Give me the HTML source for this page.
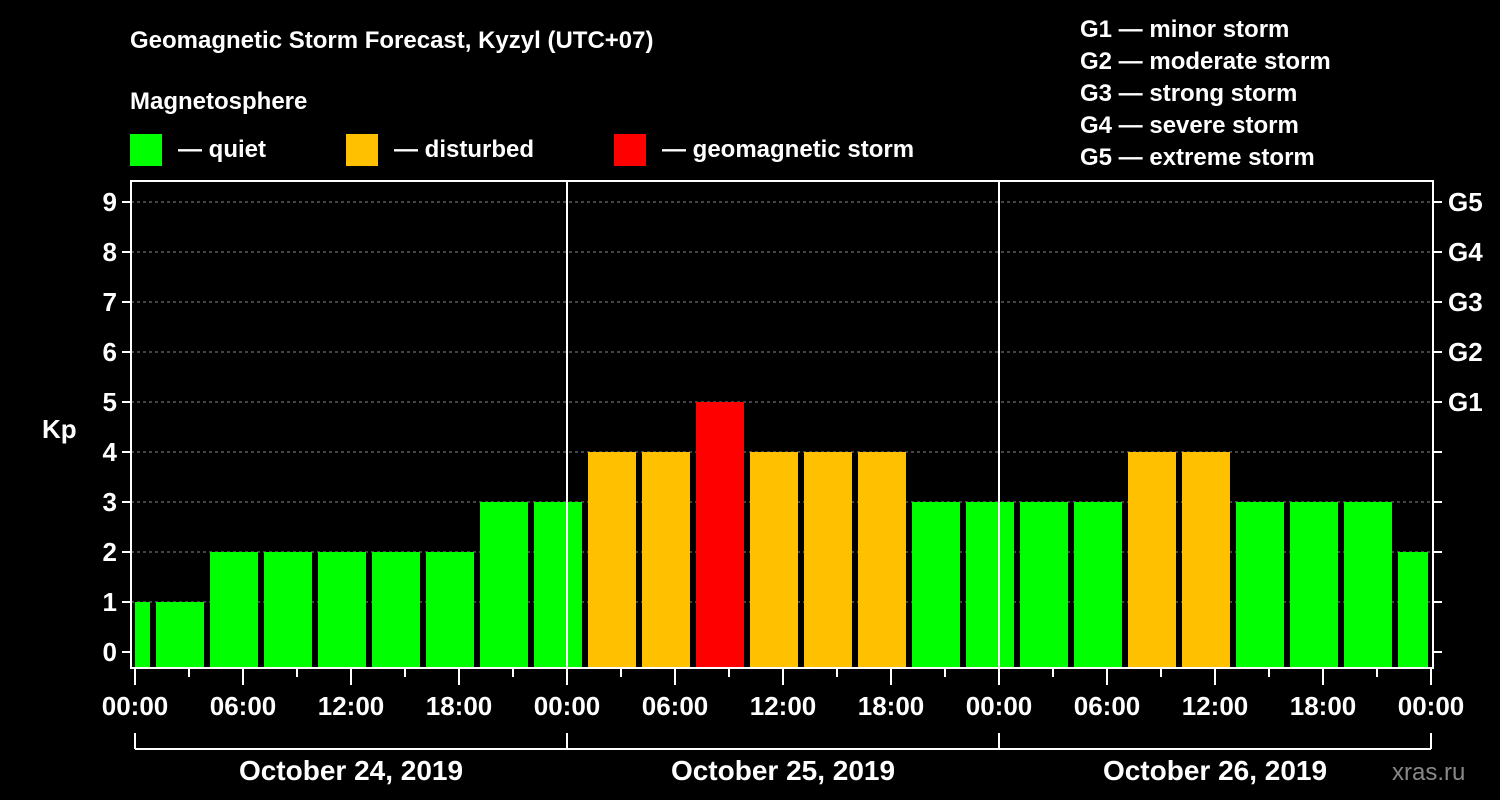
<!DOCTYPE html>
<html><head><meta charset="utf-8"><style>
body{margin:0;background:#000;}
svg{display:block;font-family:"Liberation Sans",Arial,sans-serif;font-weight:bold;}
</style></head><body>
<svg id="chart" width="1500" height="800" viewBox="0 0 1500 800">
<rect width="1500" height="800" fill="#000"/>
<text x="130" y="48" fill="#fff" font-size="24">Geomagnetic Storm Forecast, Kyzyl (UTC+07)</text>
<text x="130" y="109" fill="#fff" font-size="24">Magnetosphere</text>
<g><rect x="130" y="134" width="32" height="32" fill="#00ff00"/><text x="178" y="157" fill="#fff" font-size="24">— quiet</text></g>
<g><rect x="346" y="134" width="32" height="32" fill="#ffc000"/><text x="394" y="157" fill="#fff" font-size="24">— disturbed</text></g>
<g><rect x="614" y="134" width="32" height="32" fill="#ff0000"/><text x="662" y="157" fill="#fff" font-size="24">— geomagnetic storm</text></g>
<g fill="#fff" font-size="24">
<text x="1080" y="37">G1 — minor storm</text>
<text x="1080" y="69">G2 — moderate storm</text>
<text x="1080" y="101">G3 — strong storm</text>
<text x="1080" y="133">G4 — severe storm</text>
<text x="1080" y="165">G5 — extreme storm</text>
</g>
<g id="grid"></g>
<g id="bars"></g>
<g id="axes"></g>
<text x="42" y="438" fill="#fff" font-size="26">Kp</text>
<text x="1392" y="780" fill="#888" font-size="24" font-weight="normal">xras.ru</text>
</svg>
<script>
const kpValues=[1,1,2,2,2,2,2,3,3,4,4,5,4,4,4,3,3,3,3,4,4,3,3,3,2];
const binStartHours=[-2,1,4,7,10,13,16,19,22,25,28,31,34,37,40,43,46,49,52,55,58,61,64,67,70];
const yTicks=[0,1,2,3,4,5,6,7,8,9];
const gLabels=["G1","G2","G3","G4","G5"];
const gLevels=[5,6,7,8,9];
const xTickLabels=["00:00","06:00","12:00","18:00","00:00","06:00","12:00","18:00","00:00","06:00","12:00","18:00","00:00"];
const dayLabels=["October 24, 2019","October 25, 2019","October 26, 2019"];
const NS="http://www.w3.org/2000/svg";
const X0=135,PX_H=18,Y0=652,PX_K=50,L=131,R=1433,T=181,B=668;
const x=h=>X0+h*PX_H, y=k=>Y0-k*PX_K;
function mk(tag,attrs,parent){const e=document.createElementNS(NS,tag);for(const k in attrs)e.setAttribute(k,attrs[k]);parent.appendChild(e);return e;}
const grid=document.getElementById('grid'),bars=document.getElementById('bars'),axes=document.getElementById('axes');
yTicks.forEach(k=>{if(k>0){const g=mk('line',{x1:L,x2:R,y1:y(k),y2:y(k),stroke:'#888','stroke-dasharray':'3,3','stroke-width':1},grid);

}});
function color(v){return v>=5?'#ff0000':v>=4?'#ffc000':'#00ff00';}
kpValues.forEach((v,i)=>{let a=x(binStartHours[i])+3,b=x(binStartHours[i]+3)-3;a=Math.max(a,X0);b=Math.min(b,x(72)-3);
const r=mk('rect',{x:a,y:y(v),width:b-a,height:B-y(v),fill:color(v)},bars);

});
const frame=mk('rect',{x:L,y:T,width:R-L,height:B-T,fill:'none',stroke:'#fff','stroke-width':2},axes);


[24,48].forEach(h=>{const d=mk('line',{x1:x(h),x2:x(h),y1:T,y2:B,stroke:'#fff','stroke-width':2},axes);

});
yTicks.forEach(k=>{mk('line',{x1:L-9,x2:L,y1:y(k),y2:y(k),stroke:'#fff','stroke-width':2},axes);
mk('line',{x1:R,x2:R+9,y1:y(k),y2:y(k),stroke:'#fff','stroke-width':2},axes);
const t=mk('text',{x:L-14,y:y(k)+9,fill:'#fff','font-size':26,'text-anchor':'end'},axes);t.textContent=k;

});
gLabels.forEach((g,i)=>{const t=mk('text',{x:1448,y:y(gLevels[i])+9,fill:'#fff','font-size':26},axes);t.textContent=g;

});
for(let h=0;h<=72;h+=3){mk('line',{x1:x(h),x2:x(h),y1:B,y2:h%6===0?685:677,stroke:'#fff','stroke-width':2},axes);}
xTickLabels.forEach((s,i)=>{const t=mk('text',{x:x(i*6),y:715,fill:'#fff','font-size':26,'text-anchor':'middle'},axes);t.textContent=s;

});
mk('line',{x1:x(0),x2:x(72),y1:749,y2:749,stroke:'#fff','stroke-width':2},axes);
[0,24,48,72].forEach(h=>mk('line',{x1:x(h),x2:x(h),y1:733,y2:749,stroke:'#fff','stroke-width':2},axes));
dayLabels.forEach((s,i)=>{const t=mk('text',{x:x(i*24+12),y:780,fill:'#fff','font-size':28,'text-anchor':'middle'},axes);t.textContent=s;

});
</script>
</body></html>
